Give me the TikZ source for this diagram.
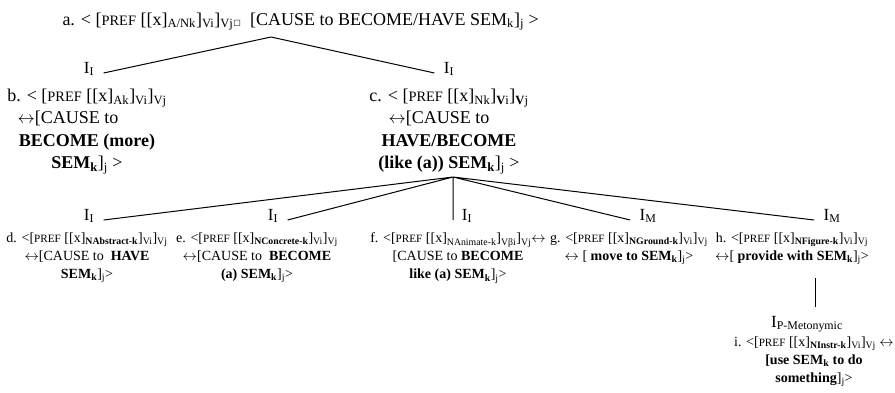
\documentclass[tikz,border=0pt]{standalone}
\usepackage{fontspec}
\setmainfont{Liberation Serif}
\newfontfamily\symfont{DejaVu Sans}
\usepackage{graphicx}
\usetikzlibrary{positioning}

\newcommand{\pref}{\scalebox{0.8}{PREF}}
\newcommand{\lra}{\ensuremath{\leftrightarrow}}

\begin{document}
\begin{tikzpicture}[x=1pt,y=-1pt,line width=1pt,
    ilabel/.style={inner xsep=9pt, inner ysep=0pt, font=\fontsize{17}{17}\selectfont},
    bigrule/.style={align=center, inner sep=0pt, font=\fontsize{18}{22.5}\selectfont},
    smallrule/.style={align=center, inner sep=0pt, font=\fontsize{14}{18}\selectfont}]

\useasboundingbox (0,0) rectangle (895,392);

% Top rule
\node[anchor=base west,
    inner sep=0pt,
    font=\fontsize{18}{22}\selectfont] (arule) at (62,25)
    {a. < [\pref{} [[x]\textsubscript{A/Nk}]\textsubscript{Vi}]\textsubscript{Vj}{\symfont\fontsize{8}{8}\selectfont □}\ \ [CAUSE to BECOME/HAVE SEM\textsubscript{k}]\textsubscript{j} >};
\coordinate (aroot) at (271,37);

% Second level
\node[ilabel, anchor=base] (bI) at (89,73) {I\textsubscript{I}};
\node[ilabel, anchor=base] (cI) at (449,73) {I\textsubscript{I}};

\node[bigrule,
    anchor=north] (brule) at (87,88.5)
    {b. < [\pref{} [[x]\textsubscript{Ak}]\textsubscript{Vi}]\textsubscript{Vj}\\
    \lra[CAUSE to\rule{38pt}{0pt}\\
    \textbf{BECOME (more)}\\
    \textbf{SEM\textsubscript{k}}]\textsubscript{j} >};

\node[bigrule,
    anchor=north] (crule) at (449,88.5)
    {c. < [\pref{} [[x]\textsubscript{Nk}]\textsubscript{\textbf{V}i}]\textsubscript{\textbf{V}j}\\
    \lra[CAUSE to\rule{20pt}{0pt}\\
    \textbf{HAVE/BECOME}\\
    \textbf{(like (a)) SEM\textsubscript{k}}]\textsubscript{j} >};
\coordinate (cfoot) at (453,177);

% Third level
\node[ilabel, anchor=base] (dI) at (89,220) {I\textsubscript{I}};
\node[ilabel, anchor=base] (eI) at (273,220) {I\textsubscript{I}};
\node[ilabel, anchor=base] (fI) at (467,220) {I\textsubscript{I}};
\node[ilabel, anchor=base] (gI) at (648,220) {I\textsubscript{M}};
\node[ilabel, anchor=base] (hI) at (832,220) {I\textsubscript{M}};

\node[smallrule,
    anchor=north] (drule) at (87,232.5)
    {d. <[\pref{} [[x]\textsubscript{\textbf{NAbstract-k}}]\textsubscript{Vi}]\textsubscript{Vj}\\
    \lra[CAUSE to \ \textbf{HAVE}\\
    \textbf{SEM\textsubscript{k}}]\textsubscript{j}>};

\node[smallrule,
    anchor=north] (erule) at (257,232.5)
    {e. <[\pref{} [[x]\textsubscript{\textbf{NConcrete-k}}]\textsubscript{Vi}]\textsubscript{Vj}\\
    \lra[CAUSE to \ \textbf{BECOME}\\
    \textbf{(a) SEM\textsubscript{k}}]\textsubscript{j}>};

\node[smallrule,
    anchor=north] (frule) at (458,232.5)
    {f. <[\pref{} [[x]\textsubscript{NAnimate-k}]\textsubscript{Vβi}]\textsubscript{Vj}\lra\\
    {}[CAUSE to \textbf{BECOME}\\
    \textbf{like (a) SEM\textsubscript{k}}]\textsubscript{j}>};

\node[smallrule,
    anchor=north] (grule) at (629,232.5)
    {g. <[\pref{} [[x]\textsubscript{\textbf{NGround-k}}]\textsubscript{Vi}]\textsubscript{Vj}\\
    \lra{} [ \textbf{move to SEM\textsubscript{k}}]\textsubscript{j}>};

\node[smallrule,
    anchor=north] (hrule) at (792,232.5)
    {h. <[\pref{} [[x]\textsubscript{\textbf{NFigure-k}}]\textsubscript{Vi}]\textsubscript{Vj}\\
    \lra[ \textbf{provide with SEM\textsubscript{k}}]\textsubscript{j}>};
\coordinate (hfoot) at (815,278);

% Metonymic rule
\node[ilabel, anchor=base] (iI) at (807,327) {I\textsubscript{P-Metonymic}};

\node[smallrule,
    anchor=north] (irule) at (814,336.5)
    {i. <[\pref{} [[x]\textsubscript{\textbf{NInstr-k}}]\textsubscript{Vi}]\textsubscript{Vj} \lra\\
    \textbf{[use SEM\textsubscript{k} to do}\\
    \textbf{something}]\textsubscript{j}>};

% Lines
\draw (aroot) -- (bI.base east)
    (aroot) -- (cI.base west);

\draw (cfoot) -- (dI.base east)
    (cfoot) -- (eI.base east)
    (cfoot) -- (cfoot |- fI.base)
    (cfoot) -- (gI.base west)
    (cfoot) -- (hI.base west);

\draw[shorten >=8pt] (hfoot) -- (hfoot |- iI.north);

\end{tikzpicture}
\end{document}
